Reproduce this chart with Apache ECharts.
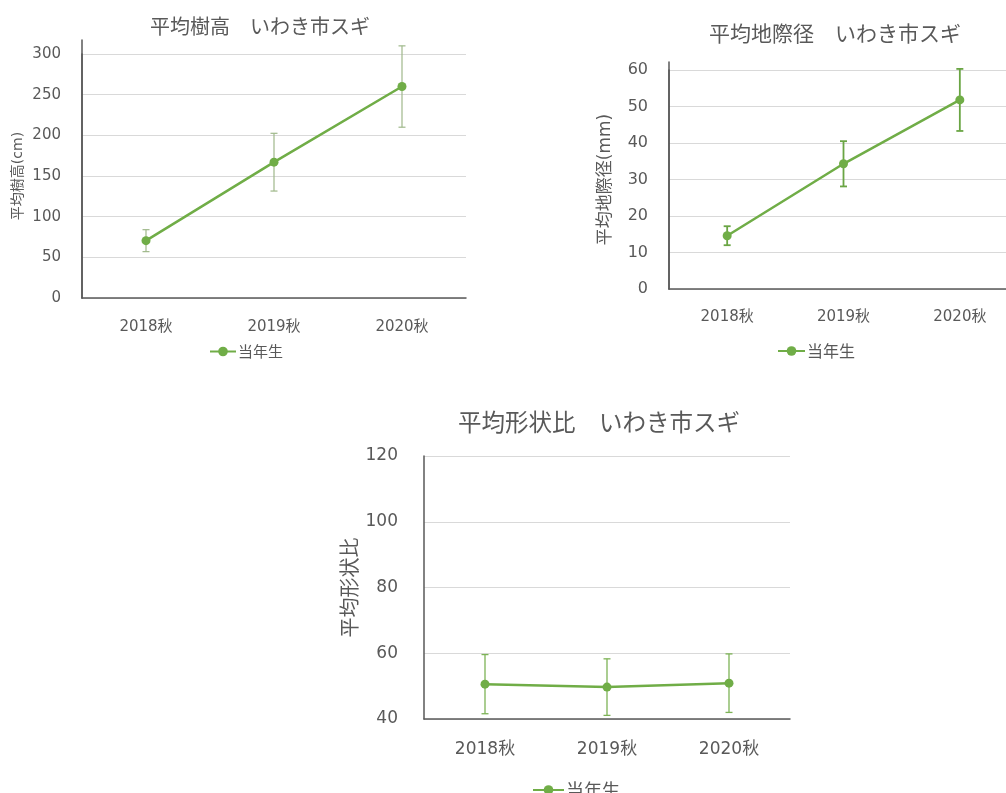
<!DOCTYPE html>
<html>
<head>
<meta charset="utf-8">
<script src="https://cdn.jsdelivr.net/npm/echarts@6/dist/echarts.min.js"></script>
<style>
  html, body { margin: 0; padding: 0; background: #ffffff; }
  #main { width: 1006px; height: 793px; }
</style>
</head>
<body>
<div id="main"></div>
<script>
// Seedling growth of Japanese cedar (スギ), Iwaki city, autumn surveys
const categories = ['2018秋', '2019秋', '2020秋'];
const seriesName = '当年生';

// Mean tree height (cm) and error-bar half widths
const heightMean = [70.5, 167, 260];
const heightErr = [13.5, 35.5, 50];
const heightTicks = [0, 50, 100, 150, 200, 250, 300];

// Mean root-collar diameter (mm) and error-bar half widths
const diamMean = [14.6, 34.3, 51.8];
const diamErr = [2.6, 6.2, 8.5];
const diamTicks = [0, 10, 20, 30, 40, 50, 60];

// Mean height/diameter ratio and error-bar half widths
const ratioMean = [50.6, 49.7, 50.9];
const ratioErr = [9.0, 8.6, 8.9];
const ratioTicks = [40, 60, 80, 100, 120];

const GREEN = '#70ad47';
const TEXT = '#595959';
const AXIS = '#595959';
const GRID = '#d9d9d9';
const FONT = '"DejaVu Sans", "Noto Sans CJK JP", sans-serif';
const CJK = '"Noto Sans CJK JP", sans-serif';

function errorData(mean, err) {
  return mean.map((m, i) => [i, m - err[i], m + err[i]]);
}

// Vertical error bar with short caps, in the given stroke style
function makeErrorBarRenderer(stroke, width, cap) {
  return function (params, api) {
    const x = api.value(0);
    const lo = api.coord([x, api.value(1)]);
    const hi = api.coord([x, api.value(2)]);
    const style = { stroke: stroke, lineWidth: width };
    return {
      type: 'group',
      children: [
        { type: 'line', shape: { x1: lo[0], y1: lo[1], x2: hi[0], y2: hi[1] }, style: style },
        { type: 'line', shape: { x1: lo[0] - cap, y1: lo[1], x2: lo[0] + cap, y2: lo[1] }, style: style },
        { type: 'line', shape: { x1: hi[0] - cap, y1: hi[1], x2: hi[0] + cap, y2: hi[1] }, style: style }
      ]
    };
  };
}

// Per-panel layout
const panels = [
  {
    title: '平均樹高　いわき市スギ', titleLeft: 145, titleTop: 11, titleSize: 20,
    grid: { left: 82, width: 384, top: 54, height: 244 },
    axisTop: 40,
    name: '平均樹高(cm)', nameSize: 14, nameGap: 57,
    ticks: heightTicks, labelSize: 15, labelMargin: 21, xLabelSize: 15, xMargin: 22,
    mean: heightMean, err: heightErr,
    errColor: '#9fb88a', errWidth: 1.2, errCap: 3.5,
    legendLeft: 204, legendTop: 339, legendSize: 15, legendW: 26
  },
  {
    title: '平均地際径　いわき市スギ', titleLeft: 704, titleTop: 18, titleSize: 21,
    grid: { left: 669, width: 349, top: 70, height: 219 },
    axisTop: 62,
    name: '平均地際径(mm)', nameSize: 17, nameGap: 55,
    ticks: diamTicks, labelSize: 16, labelMargin: 21, xLabelSize: 15, xMargin: 21,
    mean: diamMean, err: diamErr,
    errColor: '#6aa544', errWidth: 1.8, errCap: 3.5,
    legendLeft: 772, legendTop: 338, legendSize: 16, legendW: 27
  },
  {
    title: '平均形状比　いわき市スギ', titleLeft: 453, titleTop: 405, titleSize: 23.5,
    grid: { left: 424, width: 366, top: 456, height: 263 },
    axisTop: null,
    name: '平均形状比', nameSize: 20, nameGap: 57,
    ticks: ratioTicks, labelSize: 17, labelMargin: 26, xLabelSize: 17, xMargin: 22,
    mean: ratioMean, err: ratioErr,
    errColor: '#7db356', errWidth: 1.3, errCap: 3.5,
    legendLeft: 527, legendTop: 776, legendSize: 18, legendW: 31
  }
];

const option = {
  backgroundColor: '#ffffff',
  animation: false,
  textStyle: { fontFamily: FONT },
  title: [], legend: [], grid: [], xAxis: [], yAxis: [], series: []
};

panels.forEach((p, i) => {
  option.title.push({
    text: p.title, left: p.titleLeft, top: p.titleTop,
    textStyle: { fontFamily: CJK, fontSize: p.titleSize, fontWeight: 'normal', color: TEXT }
  });
  option.legend.push({
    data: [seriesName], left: p.legendLeft, top: p.legendTop,
    itemWidth: p.legendW, itemHeight: 12, itemGap: 4,
    textStyle: { fontFamily: CJK, fontSize: p.legendSize, color: TEXT, padding: [0, 0, 0, -3] }
  });
  option.grid.push(Object.assign({ outerBoundsMode: 'none' }, p.grid));
  const step = p.ticks[1] - p.ticks[0];
  option.xAxis.push({
    type: 'category', gridIndex: i, data: categories, boundaryGap: true,
    axisLine: { lineStyle: { color: AXIS, width: 1.5 } },
    axisTick: { alignWithLabel: true, length: 4, lineStyle: { color: AXIS } },
    axisLabel: { fontFamily: FONT, fontSize: p.xLabelSize, color: TEXT, margin: p.xMargin },
    splitLine: { show: false }
  });
  option.yAxis.push({
    type: 'value', gridIndex: i,
    min: p.ticks[0], max: p.ticks[p.ticks.length - 1], interval: step,
    name: p.name, nameLocation: 'middle', nameGap: p.nameGap,
    nameTextStyle: { fontFamily: FONT, fontSize: p.nameSize, color: TEXT },
    axisLine: { show: true, lineStyle: { color: AXIS, width: 1.5 } },
    axisTick: { show: false },
    axisLabel: { fontFamily: FONT, fontSize: p.labelSize, color: TEXT, margin: p.labelMargin },
    splitLine: { show: true, lineStyle: { color: GRID, width: 1 } }
  });
  option.series.push({
    type: 'custom', name: 'err' + i, xAxisIndex: i, yAxisIndex: i,
    renderItem: makeErrorBarRenderer(p.errColor, p.errWidth, p.errCap),
    data: errorData(p.mean, p.err), z: 2
  });
  option.series.push({
    type: 'line', name: seriesName, xAxisIndex: i, yAxisIndex: i,
    data: p.mean, symbol: 'circle', symbolSize: 9,
    lineStyle: { color: GREEN, width: 2.5 },
    itemStyle: { color: GREEN }, z: 3
  });
});

// Value axes whose line runs a little above the top gridline
panels.forEach((p) => {
  if (p.axisTop === null) return;
  const gi = option.grid.length;
  const bottomY = p.grid.top + p.grid.height;
  option.grid.push({
    outerBoundsMode: 'none',
    left: p.grid.left, width: p.grid.width, top: p.axisTop, height: bottomY - p.axisTop
  });
  option.xAxis.push({ type: 'value', gridIndex: gi, show: false, min: 0, max: 1 });
  option.yAxis.push({
    type: 'value', gridIndex: gi, min: 0, max: 1,
    axisLine: { show: true, lineStyle: { color: AXIS, width: 1.5 } },
    axisTick: { show: false }, axisLabel: { show: false }, splitLine: { show: false }
  });
});

const chart = echarts.init(document.getElementById('main'), null, { renderer: 'canvas' });
chart.setOption(option);
</script>
</body>
</html>
